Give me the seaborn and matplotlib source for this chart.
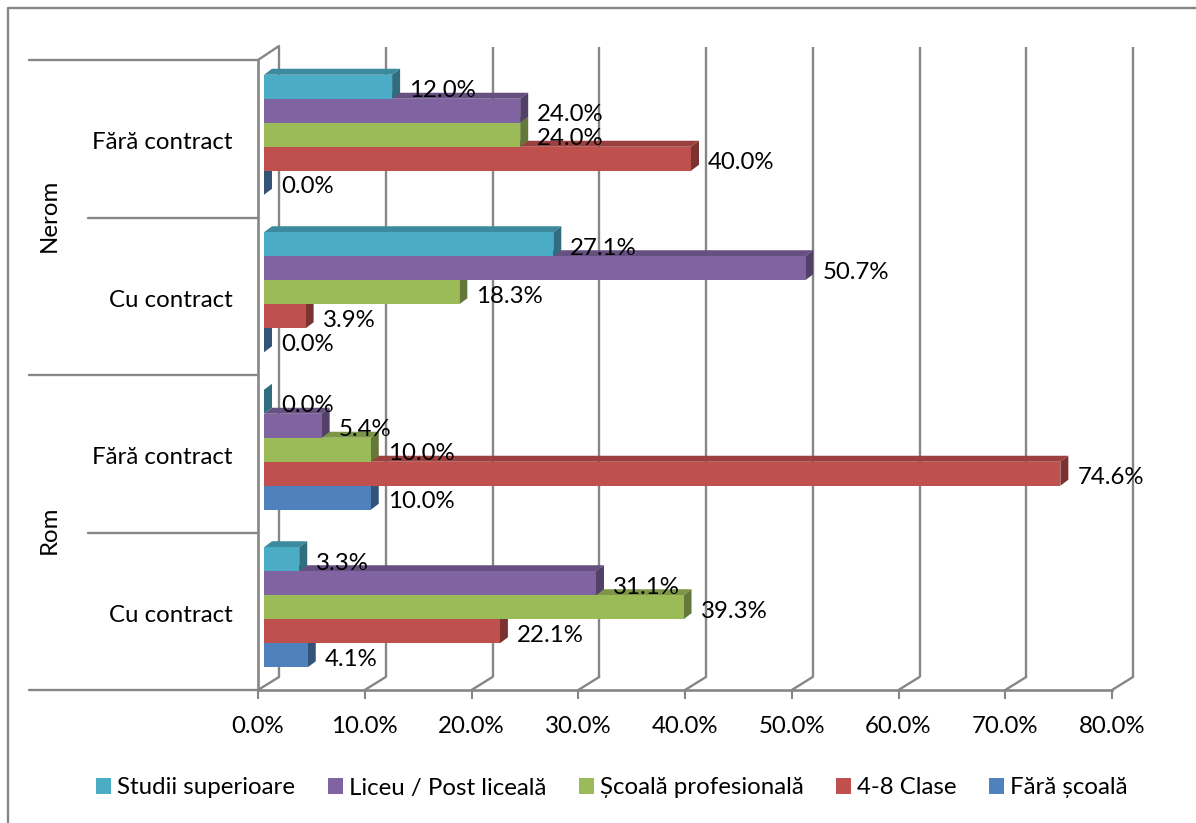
import matplotlib
matplotlib.use('Agg')
import matplotlib.pyplot as plt
from matplotlib.colors import to_rgb
from matplotlib.lines import Line2D
from matplotlib.patches import Polygon
from matplotlib.transforms import Affine2D
import numpy as np
import pandas as pd
import seaborn as sns

# Categories, from top to bottom
groups = ['Nerom', 'Rom']
contracts = ['Fără contract', 'Cu contract', 'Fără contract', 'Cu contract']
keys = ['Nerom / Fără', 'Nerom / Cu', 'Rom / Fără', 'Rom / Cu']

# Series, in drawing order (top bar first)
series = ['Studii superioare', 'Liceu / Post liceală', 'Școală profesională', '4-8 Clase', 'Fără școală']
studii = [12.0, 27.1, 0.0, 3.3]
liceu = [24.0, 50.7, 5.4, 31.1]
profesionala = [24.0, 18.3, 10.0, 39.3]
clase = [40.0, 3.9, 74.6, 22.1]
fara_scoala = [0.0, 0.0, 10.0, 4.1]
colors = ['#4BACC6', '#8064A2', '#9BBB59', '#C0504D', '#4F81BD']
x_ticks = [0, 10, 20, 30, 40, 50, 60, 70, 80]

values = [studii, liceu, profesionala, clase, fara_scoala]
df = pd.DataFrame({
    'grup': keys * len(series),
    'serie': np.repeat(series, len(keys)),
    'valoare': np.concatenate(values),
})

sns.set_style('white')
plt.rcParams['font.family'] = ['Lato', 'DejaVu Sans']
FS = 17.3
GRAY = '#868686'
W, H = 1196, 823

fig = plt.figure(figsize=(W / 100, H / 100), dpi=100)
ax = fig.add_axes([258 / W, 1 - 690 / H, 854 / W, 630 / H])

sns.barplot(data=df, y='grup', x='valoare', hue='serie', order=keys, hue_order=series,
            palette=colors, saturation=1, width=0.762, linewidth=0, ax=ax)
ax.set_xlim(0, 80)
ax.set_ylim(3.5, -0.5)
ax.set_xlabel('')
ax.set_ylabel('')
handles, labels = ax.get_legend_handles_labels()
ax.get_legend().remove()

# Back wall: gridlines moved up and right, joined to the floor
px_x = 80 / 854
px_y = 1 / 630
trans = ax.get_xaxis_transform()
ax.vlines(x_ticks, 0, 1, color=GRAY, lw=1.7, clip_on=False, zorder=1,
          transform=trans + Affine2D().translate(21, 13))
for t in x_ticks:
    ax.plot([t, t + 21 * px_x], [0, 13 * px_y], color=GRAY, lw=1.7, clip_on=False,
            zorder=1, transform=trans)
ax.plot([0, 21 * px_x], [1, 1 + 14 * px_y], color=GRAY, lw=1.7, clip_on=False,
        zorder=1, transform=trans)

# Bars sit a bit inside the depth of the chart, each with a top and a side face
shift = ax.transData + Affine2D().translate(6, 4)
dep_x = 8 * 80 / 854
dep_y = 6 * 4 / 630
for i, (cont, color) in enumerate(zip(ax.containers, colors)):
    rgb = np.array(to_rgb(color))
    z = 20 - i
    for bar in cont.patches:
        x1 = bar.get_width()
        y0 = bar.get_y()
        y1 = y0 + bar.get_height()
        bar.set_transform(shift)
        bar.set_zorder(z + 0.5)
        bar.set_clip_on(False)
        top = Polygon([(0, y0), (dep_x, y0 - dep_y), (x1 + dep_x, y0 - dep_y), (x1, y0)],
                      closed=True, fc=rgb * 0.8, ec='none', transform=shift, zorder=z,
                      clip_on=False)
        side = Polygon([(x1, y0), (x1 + dep_x, y0 - dep_y), (x1 + dep_x, y1 - dep_y), (x1, y1)],
                       closed=True, fc=rgb * 0.64, ec='none', transform=shift, zorder=z,
                       clip_on=False)
        ax.add_patch(top)
        ax.add_patch(side)
        ax.annotate(f'{x1:.1f}%', (x1, (y0 + y1) / 2), xytext=(23, 0), textcoords='offset pixels',
                    ha='left', va='center', fontsize=FS, color='black', zorder=50,
                    annotation_clip=False)

# Axes
sns.despine(ax=ax, top=True, right=True)
for s in ['left', 'bottom']:
    ax.spines[s].set_color(GRAY)
    ax.spines[s].set_linewidth(1.9)
ax.set_xticks(x_ticks)
ax.set_xticklabels([f'{t:.1f}%' for t in x_ticks], fontsize=FS, color='black')
ax.tick_params(axis='x', bottom=True, length=6.5, width=1.5, color=GRAY, pad=12.4)
ax.set_yticks(range(len(keys)))
ax.set_yticklabels(contracts, fontsize=FS, color='black')
ax.tick_params(axis='y', left=False, length=0, pad=18)
for lbl in ax.get_yticklabels():
    lbl.set_transform(lbl.get_transform() + Affine2D().translate(0, -2))

# Multi-level category axis on the left
ytrans = ax.get_yaxis_transform()
for y, x_left in zip([-0.5, 0.5, 1.5, 2.5, 3.5], [29, 88, 29, 88, 29]):
    ax.plot([(x_left - 258) / 854, 0], [y, y], color=GRAY, lw=1.7, clip_on=False, transform=ytrans)
for group, y in zip(groups, [0.5, 2.5]):
    ax.text((49 - 258) / 854, y, group, rotation=90, ha='center', va='center',
            fontsize=FS, color='black', transform=ytrans + Affine2D().translate(0, 2.5))

# Chart frame: only left and top edges are visible
fig.add_artist(Line2D([7.5 / W, 7.5 / W, 1], [0, 1 - 8 / H, 1 - 8 / H], color=GRAY, lw=1.7))

fig.legend(handles, labels, loc='center', bbox_to_anchor=(612 / W, 1 - 788 / H), ncol=5,
           frameon=False, fontsize=FS, handlelength=0.62, handleheight=0.62,
           handletextpad=0.25, columnspacing=1.36, borderpad=0, labelcolor='black')

fig.savefig('out.png', dpi=100)
